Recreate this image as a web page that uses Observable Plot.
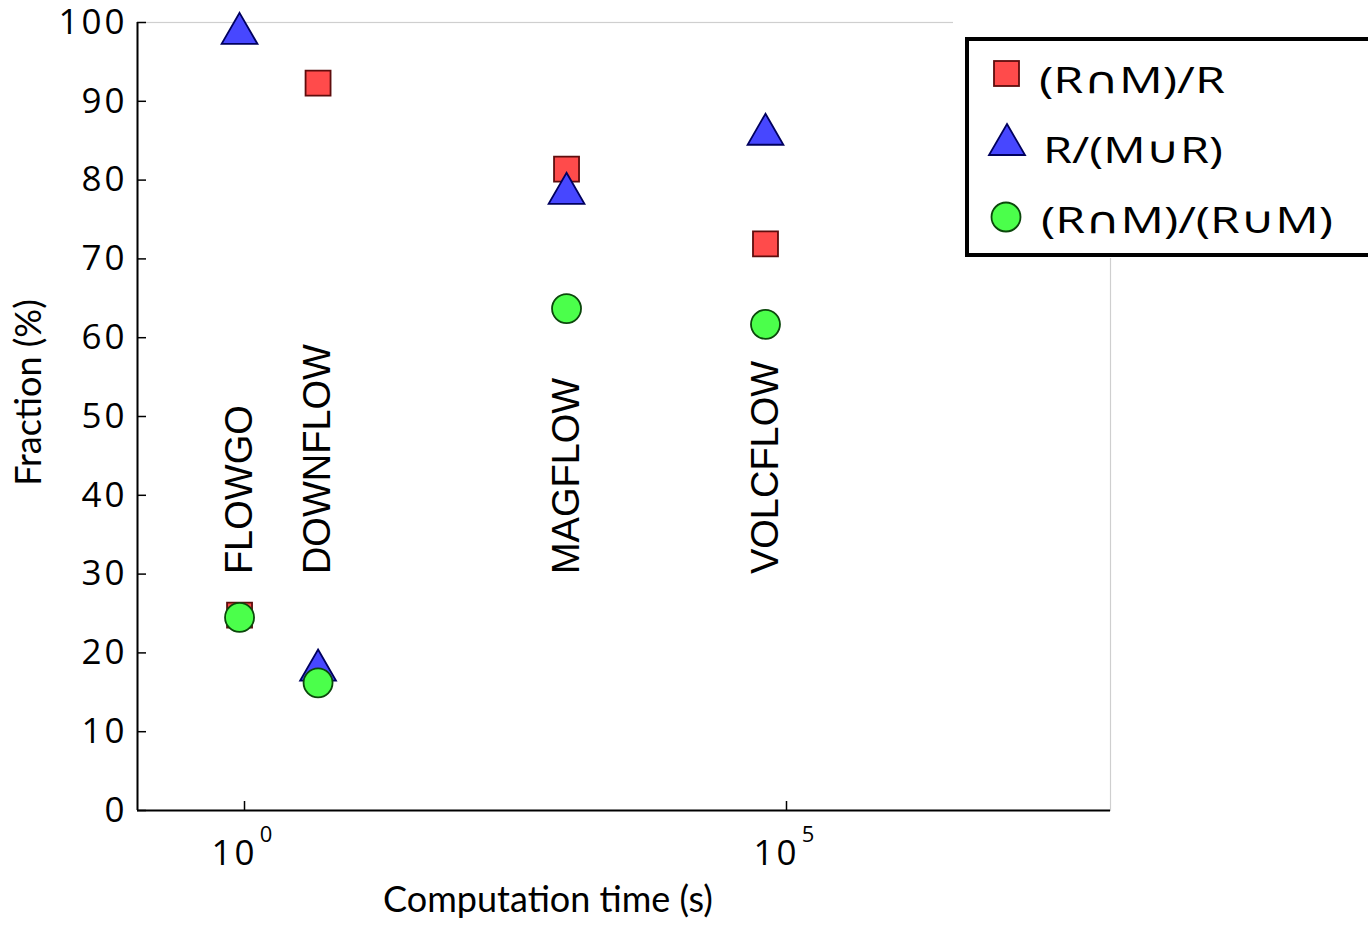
<!DOCTYPE html>
<html>
<head>
<meta charset="utf-8">
<script src="https://cdn.jsdelivr.net/npm/d3@7"></script>
<script src="https://cdn.jsdelivr.net/npm/@observablehq/plot@0.6"></script>
<style>
  html, body { margin: 0; padding: 0; background: #fff; }
  #wrap { position: relative; width: 1368px; height: 925px; overflow: hidden; }
  #wrap svg.plot { position: absolute; left: 0; top: 0; }
  g[aria-label="y-axis tick label"] text { letter-spacing: 3px; }
  g[aria-label="x-axis tick label"] text { letter-spacing: 3px; }
  #legend { position: absolute; left: 953px; top: 0; }
</style>
</head>
<body>
<div id="wrap"></div>
<script>
// ---- data ----
const models = ["FLOWGO", "DOWNFLOW", "MAGFLOW", "VOLCFLOW"];
const computationTime = [0.9, 4.77, 935, 64000];        // seconds
const intersectionOverR = [24.8, 92.3, 81.4, 71.9];     // (R∩M)/R  %
const rOverUnion = [98.6, 17.8, 78.3, 85.8];            // R/(M∪R)  %
const intersectionOverUnion = [24.5, 16.2, 63.7, 61.7]; // (R∩M)/(R∪M) %
const labelBase = 30;                                    // where model names start (%)
const yTicks = [0, 10, 20, 30, 40, 50, 60, 70, 80, 90, 100];
const xTicks = [1, 1e5];
const xDomain = [0.103, 9.75e7];
const yDomain = [0, 100];
const seriesNames = ["(R∩M)/R", "R/(M∪R)", "(R∩M)/(R∪M)"];

const idx = models.map((_, i) => i);
const tickFont = "'Open Sans', sans-serif";
const labelFont = "Lato, 'Open Sans', sans-serif";

const plot = Plot.plot({
  width: 1368,
  height: 925,
  marginTop: 22,
  marginLeft: 137,
  marginRight: 258,
  marginBottom: 115,
  style: { background: "transparent", overflow: "visible" },
  x: { type: "log", domain: xDomain },
  y: { domain: yDomain },
  marks: [
    // light frame (top / right)
    Plot.frame({ stroke: "#cfcfcf", strokeWidth: 1.2 }),
    // axes lines
    Plot.ruleY([yDomain[0]], { stroke: "black", strokeWidth: 2 }),
    Plot.ruleX([xDomain[0]], { stroke: "black", strokeWidth: 2 }),
    // y axis
    Plot.axisY({ ticks: yTicks, tickSize: -9, tickPadding: 19, strokeWidth: 1.5,
      fontSize: 35, fontFamily: tickFont, label: null, tickFormat: d => String(d) }),
    // x axis: inward ticks only
    Plot.axisX({ ticks: xTicks, tickSize: -9, strokeWidth: 1.5, label: null, tickFormat: () => "" }),
    // x axis: mantissa "10"
    Plot.axisX({ ticks: xTicks, tickSize: 0, tickPadding: 30, fontSize: 35,
      fontFamily: tickFont, label: null, dx: -10, tickFormat: () => "10" }),
    // x axis: exponent
    Plot.axisX({ ticks: xTicks, tickSize: 0, tickPadding: 16, fontSize: 22,
      fontFamily: tickFont, label: null, dx: 23, tickFormat: d => String(Math.round(Math.log10(d))) }),
    // axis titles
    Plot.text(["Fraction (%)"], { text: d => d, frameAnchor: "left", rotate: -90,
      textAnchor: "middle", lineAnchor: "middle",
      dx: -108, dy: -24, fontSize: 36, fontFamily: labelFont, fill: "black" }),
    Plot.text(["Computation time (s)"], { text: d => d, frameAnchor: "bottom",
      textAnchor: "middle", lineAnchor: "middle",
      dx: -76, dy: 90, fontSize: 36, fontFamily: labelFont, fill: "black" }),
    // model names
    Plot.text(idx, { x: i => computationTime[i], y: () => labelBase, text: i => models[i],
      rotate: -90, textAnchor: "start", fontSize: 38, fontFamily: "'Liberation Sans', Arial, sans-serif",
      fill: "black" }),
    // series
    Plot.dot(idx, { x: i => computationTime[i], y: i => intersectionOverR[i], symbol: "square",
      r: 14.1, fill: "#ff4b4b", stroke: "#5e0d0d", strokeWidth: 1.8 }),
    Plot.dot(idx, { x: i => computationTime[i], y: i => rOverUnion[i], symbol: "triangle",
      r: 13.3, fill: "#4747ff", stroke: "#00005e", strokeWidth: 1.8 }),
    Plot.dot(idx, { x: i => computationTime[i], y: i => intersectionOverUnion[i], symbol: "circle",
      r: 14.5, fill: "#4bff4b", stroke: "#0b470b", strokeWidth: 1.8 })
  ]
});
plot.classList.add("plot");
document.getElementById("wrap").appendChild(plot);

// ---- legend ----
const ns = "http://www.w3.org/2000/svg";
const leg = document.createElementNS(ns, "svg");
leg.setAttribute("id", "legend");
leg.setAttribute("width", 415);
leg.setAttribute("height", 262);
function el(tag, attrs, text) {
  const e = document.createElementNS(ns, tag);
  for (const k in attrs) e.setAttribute(k, attrs[k]);
  if (text != null) e.textContent = text;
  leg.appendChild(e);
  return e;
}
el("rect", { x: 0, y: 12, width: 415, height: 246, fill: "white" });
el("rect", { x: 14, y: 39, width: 420, height: 216, fill: "white", stroke: "black", "stroke-width": 4 });
// swatches
el("rect", { x: 41, y: 61, width: 25, height: 25, fill: "#ff4b4b", stroke: "#5e0d0d", "stroke-width": 1.8 });
el("path", { d: "M54,124 L72,155 L36,155 Z", fill: "#4747ff", stroke: "#00005e", "stroke-width": 1.8 });
el("circle", { cx: 53, cy: 217, r: 14.5, fill: "#4bff4b", stroke: "#0b470b", "stroke-width": 1.8 });
const textAttrs = { "font-family": "'Open Sans', 'DejaVu Sans', sans-serif", "font-size": 37, fill: "black",
  lengthAdjust: "spacingAndGlyphs" };
el("text", { ...textAttrs, x: 86, y: 93, textLength: 186 }, seriesNames[0]);
el("text", { ...textAttrs, x: 90, y: 163, textLength: 180 }, seriesNames[1]);
el("text", { ...textAttrs, x: 88, y: 233, textLength: 292 }, seriesNames[2]);
document.getElementById("wrap").appendChild(leg);
</script>
</body>
</html>
